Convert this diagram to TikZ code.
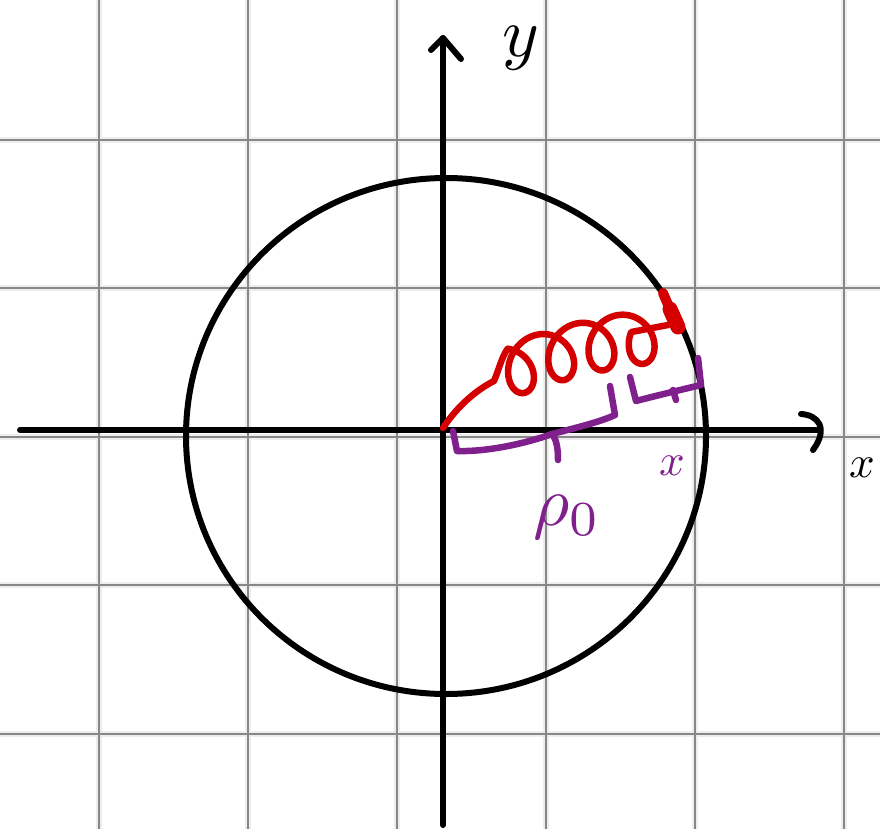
\documentclass[tikz,border=0pt]{standalone}
\usepackage{tikz}
\definecolor{sred}{RGB}{212,0,0}
\definecolor{spurple}{RGB}{128,32,140}
\definecolor{gridc}{RGB}{135,135,135}
\begin{document}
\begin{tikzpicture}[x=1pt,y=-1pt,
  gridhalo/.style={draw=gridc!15,line width=6pt},
  gridline/.style={draw=gridc,line width=1.8pt},
  axis/.style={draw=black,line width=6pt,line cap=round,line join=round},
  spring/.style={draw=sred,line width=6.5pt,line cap=round,line join=round},
  brace/.style={draw=spurple,line width=6.5pt,line cap=round,line join=round},
  lbl/.style={inner sep=0pt,outer sep=0pt}]
\useasboundingbox (0,0) rectangle (880,829);
\fill[white] (0,0) rectangle (880,829);
% grid
\foreach \gx in {99,248,397,546,695,844} {\draw[gridhalo] (\gx,0) -- (\gx,829);}
\foreach \gy in {140,288,437,585,734} {\draw[gridhalo] (0,\gy) -- (880,\gy);}
\foreach \gx in {99,248,397,546,695,844} {\draw[gridline] (\gx,0) -- (\gx,829);}
\foreach \gy in {140,288,437,585,734} {\draw[gridline] (0,\gy) -- (880,\gy);}
% axes
\coordinate (O) at (443,428);
\coordinate (xl) at (20,430);
\coordinate (xr) at (820,430);
\coordinate (yb) at (443,825);
\coordinate (yt) at (443,38);
\draw[axis] (xl) -- (xr);
\draw[axis] (yb) -- (yt);
\coordinate (ytl) at (431,50);
\coordinate (ytr) at (461,59);
\draw[axis] (ytl) -- (yt) -- (ytr);
\coordinate (xh1) at (801,414);
\coordinate (xh2) at (813,450);
\draw[axis] (xh1) .. controls (818,415) and (829,428) .. (xh2);
% circle
\coordinate (C) at (446,436);
\draw[axis] (C) ellipse [x radius=260pt, y radius=258pt];
% axis labels
\node[lbl,scale=7] (ylab) at (521,48) {$y$};
\node[lbl,scale=4.5] (xlab) at (862,468) {$x$};
% spring
\coordinate (sj) at (494,381);
\coordinate (ss) at ({521+6.4*(-2.9)-22*sin(-2.9 r)},{367-2.3*(-2.9)+0.04*(-2.9)*(-2.9)+26*cos(-2.9 r)});
\coordinate (se) at (668,325);
\draw[spring] (O) .. controls (458,405) and (478,389) .. (sj)
  .. controls (498,372) and (502,356) .. (ss);
\draw[spring] plot[domain=-2.9:20.6, samples=500, smooth, variable=\t]
  ({521+6.4*\t-22*sin(\t r)},
   {367-2.3*\t+0.04*(\t)*(\t)+26*cos(\t r)})
  -- (se);
\coordinate (b1) at (663,293);
\coordinate (b2) at (672,314);
\coordinate (b3) at (670,309);
\coordinate (b4) at (678,327);
\draw[spring,line width=10pt] (b1) -- (b2);
\draw[spring,line width=15pt] (b3) -- (b4);
% braces
\coordinate (p1) at (453,431);
\coordinate (p2) at (610,386);
\draw[brace] (p1) -- (457,451) .. controls (490,452) and (530,442) .. (552,434)
  .. controls (575,428) and (600,422) .. (615,415) -- (p2);
\coordinate (p1t) at (558,460);
\draw[brace] (552,434) .. controls (557,440) and (558,450) .. (p1t);
\coordinate (q1) at (630,377);
\coordinate (q2) at (698,358);
\draw[brace] (q1) -- (636,401) .. controls (655,396) and (680,390) .. (701,385) -- (q2);
\coordinate (q1t) at (676,400);
\draw[brace] (673,390) -- (q1t);
% labels
\node[lbl,scale=7,text=spurple] (rho) at (567,517) {$\rho_0$};
\node[lbl,scale=4.5,text=spurple] (xx) at (672,466) {$x$};
\end{tikzpicture}
\end{document}
